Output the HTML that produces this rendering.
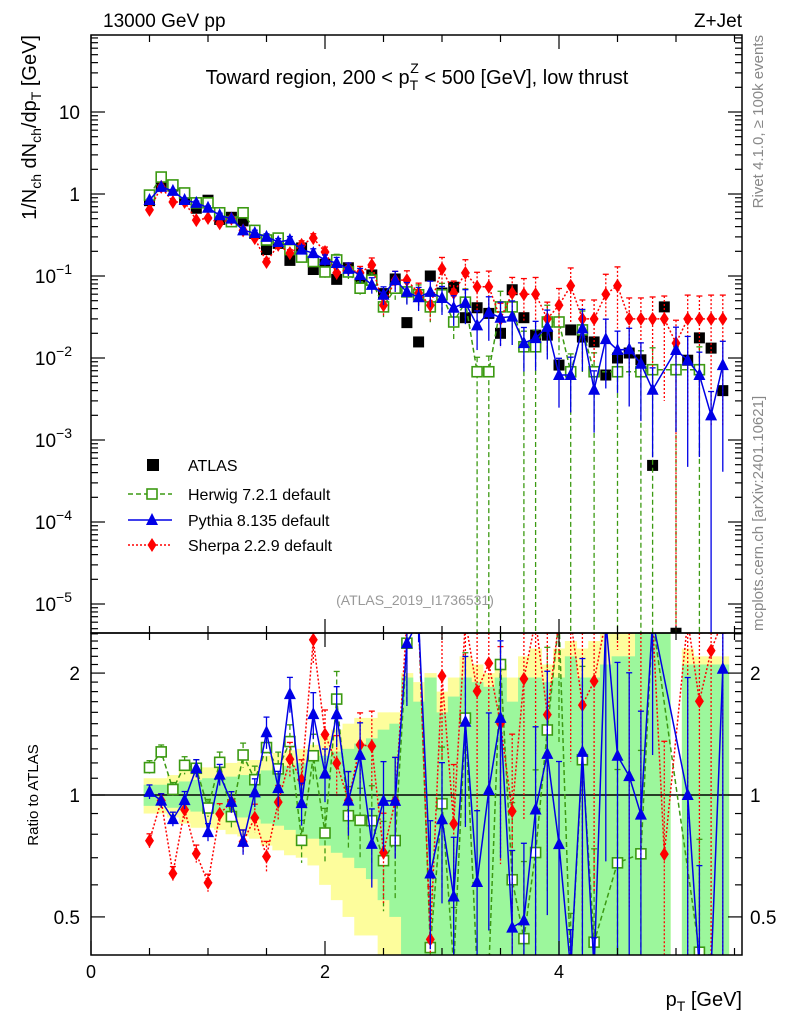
<!DOCTYPE html>
<html><head><meta charset="utf-8"><style>
html,body{margin:0;padding:0;background:#fff;width:786px;height:1024px;overflow:hidden;}
svg{display:block;font-family:"Liberation Sans",sans-serif;}
</style></head><body>
<svg id="c" width="786" height="1024" viewBox="0 0 786 1024" xmlns="http://www.w3.org/2000/svg">
<defs>
<clipPath id="clipMain"><rect x="91" y="35" width="651" height="598"/></clipPath>
<clipPath id="clipRatio"><rect x="91" y="633" width="651" height="322"/></clipPath>
</defs>
<g id="bands" clip-path="url(#clipRatio)"></g>
<line x1="91" y1="795" x2="742" y2="795" stroke="#000" stroke-width="1.5"/>
<g id="mainMarks" clip-path="url(#clipMain)"></g>
<g id="ratioMarks" clip-path="url(#clipRatio)"></g>
<g id="axes"></g>
<rect x="91" y="35" width="651" height="598" fill="none" stroke="#000" stroke-width="1.5"/>
<rect x="91" y="633" width="651" height="322" fill="none" stroke="#000" stroke-width="1.5"/>
<text x="103" y="27" font-size="19">13000 GeV pp</text>
<text x="742" y="27" font-size="19" text-anchor="end">Z+Jet</text>
<text x="417" y="84" font-size="20" text-anchor="middle">Toward region, 200 &lt; p<tspan font-size="14" dy="6">T</tspan><tspan font-size="14" dx="-8" dy="-17">Z</tspan><tspan dy="11"> &lt; 500 [GeV], low thrust</tspan></text>
<text transform="translate(36,35) rotate(-90)" font-size="20" text-anchor="end">1/N<tspan font-size="14" dy="5">ch</tspan><tspan dy="-5"> dN</tspan><tspan font-size="14" dy="5">ch</tspan><tspan dy="-5">/dp</tspan><tspan font-size="14" dy="5">T</tspan><tspan dy="-5"> [GeV]</tspan></text>
<text transform="translate(38,795) rotate(-90)" font-size="15" text-anchor="middle">Ratio to ATLAS</text>
<text x="742" y="1006" font-size="20" text-anchor="end">p<tspan font-size="14" dy="5">T</tspan><tspan dy="-5"> [GeV]</tspan></text>
<text transform="translate(763,35) rotate(-90)" font-size="15" fill="#888" text-anchor="end">Rivet 4.1.0, ≥ 100k events</text>
<text transform="translate(763,631) rotate(-90)" font-size="15" fill="#888" text-anchor="start">mcplots.cern.ch [arXiv:2401.10621]</text>
<text x="415" y="605" font-size="14" fill="#999" text-anchor="middle">(ATLAS_2019_I1736531)</text>
<g id="legend"></g>
</svg>
<script>
const NS="http://www.w3.org/2000/svg";
const binCenters=[0.5,0.6,0.7,0.8,0.9,1.0,1.1,1.2,1.3,1.4,1.5,1.6,1.7,1.8,1.9,2.0,2.1,2.2,2.3,2.4,2.5,2.6,2.7,2.8,2.9,3.0,3.1,3.2,3.3,3.4,3.5,3.6,3.7,3.8,3.9,4.0,4.1,4.2,4.3,4.4,4.5,4.6,4.7,4.8,4.9,5.0,5.1,5.2,5.3,5.4];
const atlas=[0.83,1.26,1.25,0.87,0.67,0.84,0.49,0.52,0.47,0.33,0.21,0.25,0.155,0.22,0.12,0.139,0.091,0.126,0.082,0.103,0.061,0.092,0.027,0.0157,0.1,0.062,0.073,0.031,0.041,0.035,0.020,0.068,0.031,0.019,0.019,0.0082,0.022,0.018,0.0157,0.0062,0.01,0.0115,0.0095,0.00049,0.042,0.0000044,0.0094,0.0176,0.0132,0.004];
const herwig=[0.97,1.61,1.29,1.03,0.78,0.78,0.59,0.46,0.59,0.36,0.275,0.29,0.21,0.17,0.15,0.112,0.157,0.112,0.071,0.089,0.042,0.071,0.064,0.059,0.042,0.059,0.0275,0.048,0.0068,0.0068,0.042,0.042,0.0137,0.0137,0.0275,0.0275,0.0068,0.022,0.0068,null,0.0068,null,0.0068,0.0072,null,0.0072,null,0.0072,null,null];
const pythia=[0.845,1.22,1.09,0.845,0.78,0.68,0.55,0.50,0.36,0.335,0.30,0.26,0.275,0.21,0.19,0.157,0.144,0.122,0.103,0.078,0.059,0.089,0.064,0.055,0.064,0.054,0.041,0.047,0.025,0.036,0.031,0.032,0.0152,0.0175,0.024,0.0062,0.0062,0.023,0.0041,0.017,0.0125,0.0128,0.0085,0.0041,null,0.0125,0.0094,0.0062,0.002,0.0082];
const sherpa=[0.64,1.22,0.80,0.80,0.48,0.51,0.44,0.50,0.36,0.29,0.148,0.24,0.19,0.24,0.29,0.196,0.109,0.122,0.109,0.136,0.044,0.089,0.089,0.062,0.044,0.122,0.062,0.109,0.074,0.074,0.03,0.062,0.06,0.06,0.03,0.044,0.076,0.03,0.03,0.06,0.076,0.03,0.03,0.03,0.03,0.0152,0.03,0.03,0.03,0.03];
const mcErr=[.04,.04,.04,.05,.05,.05,.06,.06,.07,.08,.09,.10,.10,.12,.13,.15,.17,.18,.20,.22,.25,.28,.30,.32,.35,.38,.40,.45,.50,.55,.55,.55,.55,.60,.60,.60,.65,.70,.70,.75,.70,.80,.80,.85,.90,.90,.95,.90,.95,.95];
const herwigZeroLow=[28,29,32,33,36,38,40,42,43,45,47];
const sherpaZeroLow=[45];
const pythiaZeroLow=[48];
const greenErr=[.06,.06,.07,.08,.09,.10,.10,.11,.12,.13,.15,.16,.18,.20,.22,.25,.28,.30,.34,.38,.45,.50,.95,.70,.95,.60,.75,.95,.90,.85,.95,.70,.95,.95,.90,.95,1.2,.95,.95,1.1,1.2,1.2,1.6,1.6,1.6,0,1.1,1.1,1.1,1.1];
const yellowErr=[.10,.10,.12,.15,.17,.17,.18,.20,.21,.22,.25,.27,.29,.30,.33,.40,.45,.50,.55,.55,.60,.60,1.0,.90,1.0,.80,.95,1.2,1.1,1.0,1.1,.95,1.2,1.3,1.1,1.3,1.4,1.3,1.4,1.5,1.6,1.6,1.7,1.7,1.6,0,1.3,1.2,1.2,1.2];
const xTickLabels=["0","2","4"];
const yTickExps=[1,0,-1,-2,-3,-4,-5];
const ratioTickLabels=["0.5","1","2"];

const X=v=>91+117*v;
const Y=v=>194-82*Math.log10(v);
const R=r=>795-405*Math.log10(r);
const clampM=y=>Math.max(35,Math.min(633,y));
const clampR=y=>Math.max(633,Math.min(955,y));
const BW=117*0.1;
function el(tag,attrs,parent){const e=document.createElementNS(NS,tag);for(const k in attrs)e.setAttribute(k,attrs[k]);parent.appendChild(e);return e;}
const main=document.getElementById('mainMarks'),ratio=document.getElementById('ratioMarks'),bands=document.getElementById('bands'),axes=document.getElementById('axes'),legend=document.getElementById('legend');
const GREEN="#3c9a12",BLUE="#0000e6",RED="#ff0000";

function band(errs,color,name){
  binCenters.forEach((x,i)=>{
    if(errs[i]>0){const up=clampR(R(1+errs[i]));const lo=1-errs[i]>0.05?clampR(R(1-errs[i])):955;
      const r=el('rect',{x:X(x)-BW/2,y:up,width:BW+0.5,height:Math.max(0,lo-up),fill:color},bands);
      
      }
  });
}
band(yellowErr,"#fdfd9c",'yellow-band-bin');
band(greenErr,"#9cf79c",'green-band-bin');

function series(vals,color,dash,marker,name,zeroLow,parent,isRatio){
  const pts=[];
  const cl=isRatio?clampR:clampM;
  const bottom=isRatio?955:633;
  binCenters.forEach((x,i)=>{
    let v=vals[i];if(v==null)return;
    if(isRatio){if(!atlas[i]||atlas[i]<1e-5)return;v=v/atlas[i];}
    const f=isRatio?R:Y;
    const px=X(x),py=cl(f(v)+0)===f(v)?f(v):Math.max(isRatio?620:20,Math.min(isRatio?970:650,f(v)));pts.push([px,py]);
    const e=mcErr[i];
    const up=cl(f(v*(1+e)));const lo=zeroLow.includes(i)?bottom:cl(f(Math.max(v*(1-e),1e-9)));
    const eb=el('line',{x1:px,y1:up,x2:px,y2:lo,stroke:color,'stroke-width':1.3,'stroke-dasharray':dash||'none'},parent);
    
    
    el('line',{x1:px-3,y1:up,x2:px+3,y2:up,stroke:color,'stroke-width':1.3},parent);
  });
  const pl=el('polyline',{points:pts.map(p=>p.join(',')).join(' '),fill:'none',stroke:color,'stroke-width':1.5,'stroke-dasharray':dash||'none'},parent);
  
  
  pts.forEach(p=>{const m=marker(p[0],p[1],parent);});
}
const sq=(x,y,p)=>el('rect',{x:x-5,y:y-5,width:10,height:10,fill:'#fff',stroke:GREEN,'stroke-width':1.6},p);
const tri=(x,y,p)=>el('polygon',{points:`${x},${y-7} ${x-6},${y+5} ${x+6},${y+5}`,fill:BLUE},p);
const dia=(x,y,p)=>el('polygon',{points:`${x},${y-7} ${x+4.5},${y} ${x},${y+7} ${x-4.5},${y}`,fill:RED},p);

binCenters.forEach((x,i)=>{const v=atlas[i];if(v==null)return;
  const py=Math.min(640,Y(v));
  const r=el('rect',{x:X(x)-5.5,y:py-5.5,width:11,height:11,fill:'#000'},main);
  
  });
series(herwig,GREEN,'5,3',sq,'herwig',herwigZeroLow,main,false);
series(sherpa,RED,'2,2',dia,'sherpa',sherpaZeroLow,main,false);
series(pythia,BLUE,null,tri,'pythia',pythiaZeroLow,main,false);
series(herwig,GREEN,'5,3',sq,'herwig-ratio',[],ratio,true);
series(sherpa,RED,'2,2',dia,'sherpa-ratio',[],ratio,true);
series(pythia,BLUE,null,tri,'pythia-ratio',[],ratio,true);

function tick(x1,y1,x2,y2){el('line',{x1,y1,x2,y2,stroke:'#000','stroke-width':1.2},axes);}
for(let k=0;k<=11;k++){const v=k*0.5;const px=X(v);if(px>742)break;const L=(k%4==0)?14:7;
  tick(px,633,px,633-L);tick(px,35,px,35+L);tick(px,955,px,955-L);tick(px,633,px,633+L);}
xTickLabels.forEach((t,i)=>{const tx=el('text',{x:X(i*2),y:978,'font-size':18,'text-anchor':'middle'},axes);tx.textContent=t;
  
  });
for(let e=-6;e<=1;e++){for(let m=1;m<10;m++){const v=m*Math.pow(10,e);const py=Y(v);if(py<35||py>633)continue;const L=m==1?14:7;
  tick(91,py,91+L,py);tick(742,py,742-L,py);}}
yTickExps.forEach(e=>{const py=Y(Math.pow(10,e));
  const tx=el('text',{x:e<0?72:80,y:py+7,'font-size':19,'text-anchor':'end'},axes);
  
  
  if(e===1)tx.textContent='10';else if(e===0)tx.textContent='1';
  else{tx.textContent='10';const s=el('tspan',{dy:-9,'font-size':14},tx);s.textContent='−'+(-e);}});
for(let k=4;k<=25;k++){const r=k/10;const py=R(r);if(py<633||py>955)continue;const maj=(k==5||k==10||k==20);const L=maj?14:7;
  tick(91,py,91+L,py);tick(742,py,742-L,py);}
ratioTickLabels.forEach(t=>{const py=R(parseFloat(t));
  const a=el('text',{x:80,y:py+7,'font-size':19,'text-anchor':'end'},axes);a.textContent=t;
  
  
  const b=el('text',{x:750,y:py+7,'font-size':19,'text-anchor':'start'},axes);b.textContent=t;
  
  });

const entries=[['ATLAS',465],['Herwig 7.2.1 default',494],['Pythia 8.135 default',520],['Sherpa 2.2.9 default',545]];
entries.forEach((en,i)=>{const y=en[1];const g=el('g',{},legend);
  
  
  if(i==0)el('rect',{x:147,y:y-6,width:12,height:12,fill:'#000'},g);
  if(i==1){el('line',{x1:128,y1:y,x2:172,y2:y,stroke:GREEN,'stroke-width':1.5,'stroke-dasharray':'5,3'},g);sq(152,y,g);}
  if(i==2){el('line',{x1:128,y1:y,x2:172,y2:y,stroke:BLUE,'stroke-width':1.5},g);tri(152,y,g);}
  if(i==3){el('line',{x1:128,y1:y,x2:172,y2:y,stroke:RED,'stroke-width':1.5,'stroke-dasharray':'2,2'},g);dia(152,y,g);}
  const t=el('text',{x:188,y:y+6,'font-size':16},g);t.textContent=en[0];});
</script>
</body></html>
